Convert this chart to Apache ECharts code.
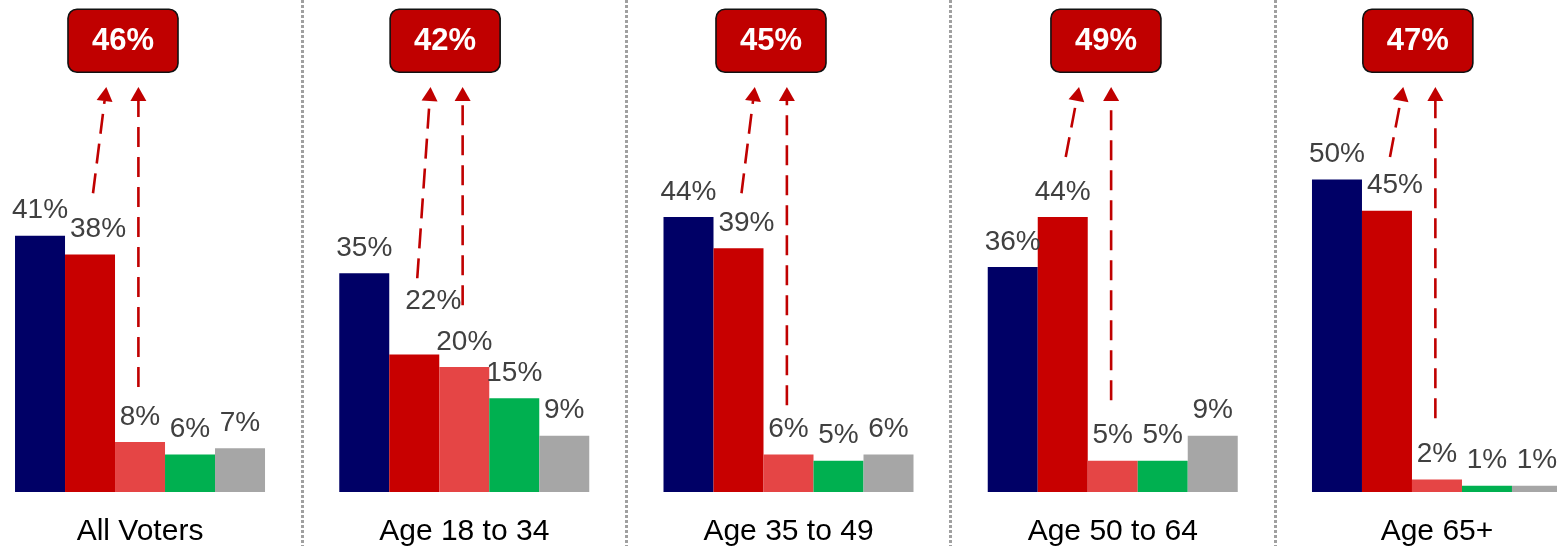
<!DOCTYPE html>
<html>
<head>
<meta charset="utf-8">
<script src="https://cdn.jsdelivr.net/npm/echarts@6/dist/echarts.min.js"></script>
<style>
html,body{margin:0;padding:0;background:#fff;}
#chart{width:1557px;height:546px;}
</style>
</head>
<body>
<div id="chart"></div>
<script>
// ---- data ----
const categories = ['All Voters', 'Age 18 to 34', 'Age 35 to 49', 'Age 50 to 64', 'Age 65+'];
const seriesNames = ['Series 1', 'Series 2', 'Series 3', 'Series 4', 'Series 5'];
const s1 = [41, 35, 44, 36, 50];
const s2 = [38, 22, 39, 44, 45];
const s3 = [8, 20, 6, 5, 2];
const s4 = [6, 15, 5, 5, 1];
const s5 = [7, 9, 6, 9, 1];
const totals = [46, 42, 45, 49, 47];
// annotation anchors (value units; x as fraction of a category band)
const arrow1From = [47.8, 34.2, 47.8, 53.6, 53.6];
const arrow2From = [16.8, 29.9, 13.9, 14.7, 11.8];
const arrowTo = 64.8;
const boxX = [0.4475, 0.441, 0.446, 0.479, 0.441];
const boxY = 72.2;
// label nudges for the second series (px)
const s2LabelDx = [8, 19, 8, 0, 8];
const s2LabelDy = [0, -28, 0, 0, 0];

const colors = ['#000066', '#c80000', '#e54545', '#00b050', '#a6a6a6'];
const FONT = '"Liberation Sans", Arial, sans-serif';

const chart = echarts.init(document.getElementById('chart'), null, {renderer: 'canvas'});

const barData = [s1, s2, s3, s4, s5];
const barSeries = barData.map((d, k) => ({
  name: seriesNames[k],
  type: 'bar',
  xAxisIndex: 0,
  yAxisIndex: 0,
  data: k === 1 ? d.map((v, i) => ({value: v, label: {offset: [s2LabelDx[i], s2LabelDy[i]]}})) : d,
  barWidth: 50,
  barGap: '0%',
  itemStyle: {color: colors[k]},
  label: {
    show: true,
    position: 'top',
    distance: 11,
    formatter: '{c}%',
    fontFamily: FONT,
    fontSize: 28,
    color: '#404040'
  },
  z: 2
}));

const arrowData = [];
for (let i = 0; i < categories.length; i++) {
  arrowData.push([i + 0.355, arrow1From[i], i + 0.396, arrowTo]);
  arrowData.push([i + 0.495, arrow2From[i], i + 0.495, arrowTo]);
}

const boxData = totals.map((t, i) => [i + boxX[i], boxY, t]);

const option = {
  animation: false,
  grid: {left: -22.1, right: -42.1, top: 0, bottom: 0, containLabel: false, outerBoundsMode: 'none'},
  xAxis: [{
    type: 'category',
    data: categories,
    axisLine: {show: false, onZero: false},
    axisTick: {show: false},
    axisLabel: {interval: 0, margin: -29, fontFamily: FONT, fontSize: 30, color: '#000'},
    splitLine: {show: true, interval: 0, lineStyle: {color: '#a0a0a0', width: 3, type: [3, 2]}}
  }, {
    type: 'value', min: 0, max: 5, show: false
  }],
  yAxis: [{
    type: 'value', min: -8.64, max: 78.72, show: false, splitLine: {show: false}
  }],
  series: barSeries.concat([
    {
      type: 'custom',
      xAxisIndex: 1,
      yAxisIndex: 0,
      data: arrowData,
      encode: {x: [0, 2], y: [1, 3]},
      z: 5,
      silent: true,
      renderItem: function (params, api) {
        const p1 = api.coord([api.value(0), api.value(1)]);
        const p2 = api.coord([api.value(2), api.value(3)]);
        const dx = p2[0] - p1[0], dy = p2[1] - p1[1];
        const len = Math.sqrt(dx * dx + dy * dy);
        const ux = dx / len, uy = dy / len;
        const nx = -uy, ny = ux;
        const hl = 14, hw = 8;
        const bx = p2[0] - ux * hl, by = p2[1] - uy * hl;
        return {
          type: 'group',
          children: [{
            type: 'line',
            shape: {x1: p1[0], y1: p1[1], x2: bx, y2: by},
            style: {stroke: '#c00000', lineWidth: 2.6, lineDash: [20, 10]}
          }, {
            type: 'polygon',
            shape: {points: [[p2[0], p2[1]], [bx + nx * hw, by + ny * hw], [bx - nx * hw, by - ny * hw]]},
            style: {fill: '#c00000'}
          }]
        };
      }
    },
    {
      type: 'custom',
      xAxisIndex: 1,
      yAxisIndex: 0,
      data: boxData,
      encode: {x: 0, y: 1},
      z: 6,
      silent: true,
      renderItem: function (params, api) {
        const c = api.coord([api.value(0), api.value(1)]);
        const w = 110, h = 63;
        return {
          type: 'group',
          children: [{
            type: 'rect',
            shape: {x: c[0] - w / 2, y: c[1] - h / 2, width: w, height: h, r: 9},
            style: {fill: '#c00000', stroke: '#111', lineWidth: 1.6}
          }, {
            type: 'text',
            style: {
              x: c[0], y: c[1] + 1,
              text: api.value(2) + '%',
              align: 'center', verticalAlign: 'middle',
              fill: '#fff',
              font: 'bold 31px ' + FONT
            }
          }]
        };
      }
    }
  ])
};

chart.setOption(option);
</script>
</body>
</html>
